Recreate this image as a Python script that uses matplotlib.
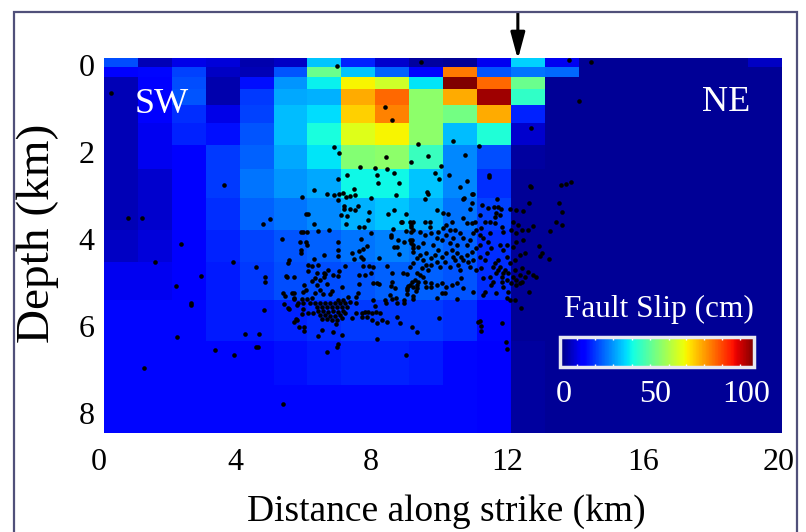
import numpy as np
from matplotlib import pyplot as plt
from matplotlib.cm import ScalarMappable
from matplotlib.colors import Normalize
from matplotlib.patches import Rectangle

W, H = 806, 532

# fault patches, edges in km
strike_edges = [0.15 + 0.997 * i for i in range(21)]
depth_edges = [-0.16, 0.05, 0.28, 0.55, 0.92, 1.33, 1.84, 2.39, 3.06, 3.79, 4.53, 5.40, 6.34, 7.36, 8.46]

# slip in cm, one row per depth
slip = [
    [20, 5, 9, 8, 4, 6, 32, 16, 7, 3, 2, 10, 33, 10, 2, 2, 2, 2, 2, 6],
    [11, 13, 19, 6, 5, 21, 48, 32, 22, 11, 78, 21, 24, 23, 2, 2, 2, 2, 2, 2],
    [5, 12, 20, 4, 14, 27, 36, 65, 60, 35, 100, 80, 48, 2, 2, 2, 2, 2, 2, 2],
    [5, 11, 21, 4, 18, 29, 30, 73, 80, 52, 73, 97, 41, 2, 2, 2, 2, 2, 2, 2],
    [5, 11, 17, 9, 19, 31, 34, 69, 77, 52, 49, 73, 16, 2, 2, 2, 2, 2, 2, 2],
    [5, 10, 16, 14, 21, 31, 38, 62, 65, 52, 31, 39, 7, 2, 2, 2, 2, 2, 2, 2],
    [5, 10, 11, 18, 22, 29, 35, 51, 52, 42, 26, 20, 3, 2, 2, 2, 2, 2, 2, 2],
    [5, 7, 11, 18, 24, 27, 29, 37, 37, 32, 26, 17, 2, 2, 2, 2, 2, 2, 2, 2],
    [5, 7, 11, 17, 22, 24, 26, 30, 32, 29, 24, 19, 2, 2, 2, 2, 2, 2, 2, 2],
    [6, 8, 12, 16, 19, 21, 22, 24, 25, 24, 22, 17, 2, 2, 2, 2, 2, 2, 2, 2],
    [10, 10, 12, 15, 18, 20, 20, 21, 22, 22, 21, 17, 2, 2, 2, 2, 2, 2, 2, 2],
    [13, 13, 13, 15, 15, 16, 17, 18, 18, 18, 17, 13, 2, 2, 2, 2, 2, 2, 2, 2],
    [13, 13, 13, 13, 13, 14, 15, 16, 16, 15, 13, 11, 3, 2, 2, 2, 2, 2, 2, 2],
    [13, 13, 13, 13, 13, 13, 13, 13, 13, 13, 13, 12, 3, 2, 2, 2, 2, 2, 2, 2],
]

# aftershocks (distance km, depth km)
events = [
    (.85,3.52),(1.27,3.52),(3.68,2.76),(2.41,4.11),(1.65,4.53),(3.0,4.85),(2.26,5.08),(2.7,5.47),(2.71,5.52),
    (2.29,6.25),(1.32,6.97),(3.41,6.55),(3.97,6.67),(4.29,6.18),(4.71,6.18),(4.62,6.48),(4.68,6.48),(5.41,7.79),
    (4.85,5.63),(3.94,4.53),(4.62,4.64),(4.88,4.87),(4.88,4.99),(4.82,3.66),(5.03,3.54),(5.38,4.0),(5.53,4.87),
    (5.74,4.87),(5.56,4.55),(5.59,4.48),(5.41,5.24),(5.47,5.31),(5.68,5.24),(5.74,5.24),(5.44,5.49),(5.59,5.61),
    (5.74,5.38),(5.82,5.52),(5.74,5.91),(5.79,5.84),(5.88,6.02),(.34,.65),(7.0,.02),(9.47,-.07),(13.82,-.11),
    (14.47,-.07),(14.12,.83),(8.41,.97),(8.62,1.27),(12.71,1.45),(10.41,1.75),(11.18,1.87),(9.38,1.82),(6.91,1.88),
    (7.06,2.02),(8.44,2.11),(9.68,2.09),(10.76,2.07),(9.18,2.23),(10.06,2.32),(7.68,2.34),(8.12,2.37),(8.47,2.39),
    (8.68,2.48),(8.18,2.53),(7.29,2.53),(9.88,2.48),(10.29,2.53),(10.0,2.62),(11.47,2.53),(11.47,2.58),(7.03,2.62),
    (10.82,2.67),(8.21,2.71),(8.82,2.71),(10.62,2.8),(12.71,2.8),(13.59,2.76),(13.74,2.74),(13.88,2.69),(7.5,2.85),
    (6.32,2.87),(9.65,2.92),(9.68,2.97),(10.97,2.97),(6.71,2.97),(6.91,2.99),(7.06,2.97),(7.18,2.94),(7.26,3.03),
    (7.38,3.01),(7.53,2.99),(8.0,3.06),(8.74,2.99),(9.59,3.08),(10.74,3.06),(11.71,3.08),(5.97,3.03),
    (7.03,3.10),(7.21,3.24),(7.21,3.31),(7.38,3.31),(7.53,3.33),(7.62,3.24),(7.94,3.38),(7.12,3.45),(7.29,3.47),
    (7.91,3.56),(7.26,3.66),(7.65,3.72),(7.79,3.72),(8.0,3.86),(8.5,3.43),(8.68,3.33),(9.03,3.43),(8.88,3.61),
    (9.15,3.61),(8.65,3.77),(9.03,3.82),(9.18,3.72),(9.24,3.79),(8.59,3.91),(8.59,3.95),(8.79,4.02),(8.97,4.07),
    (9.21,4.02),(9.18,4.09),(8.68,4.18),(8.76,4.18),(8.82,4.34),(9.24,4.21),(9.24,4.3),(6.09,3.43),(6.15,3.43),
    (6.32,3.66),(5.94,3.84),(6.0,3.84),(6.12,3.84),(6.44,3.82),(6.76,3.79),(5.91,4.07),(6.09,4.07),(6.12,4.14),
    (7.03,4.07),(7.71,4.0),(5.94,4.25),(5.94,4.32),(7.03,4.25),(7.03,4.39),(7.88,4.16),(7.76,4.23),(7.65,4.28),
    (7.44,4.32),(6.62,4.37),(6.32,4.46),(7.5,4.46),(7.71,4.41),(7.76,4.46),(8.24,4.44),(6.15,4.6),(6.26,4.62),
    (6.44,4.6),(7.24,4.62),(7.76,4.62),(7.94,4.62),(8.06,4.64),(8.47,4.62),(6.74,4.71),(7.06,4.74),(6.15,4.74),
    (6.62,4.78),(6.41,4.78),(6.88,4.83),(7.03,4.85),(7.65,4.83),(7.82,4.83),(8.0,4.78),(8.62,4.78),(8.94,4.78),
    (9.06,4.8),(5.5,4.85),(6.35,4.9),(6.62,4.87),(9.15,4.64),
    (6.26,4.97),(6.5,4.94),(6.65,4.8),(6.41,5.06),(6.71,5.03),(6.5,5.17),(6.59,5.26),(6.35,5.24),(6.03,5.06),
    (6.0,5.22),(6.09,5.17),(6.85,5.2),(6.79,5.26),(7.15,5.1),(7.62,5.24),(7.32,5.33),(7.56,5.33),(7.03,5.4),
    (7.18,5.4),(7.38,5.45),(7.56,5.47),(5.74,5.36),(5.97,5.38),(6.12,5.38),(6.26,5.36),(5.85,5.47),(6.0,5.47),
    (6.21,5.47),(6.35,5.47),(6.5,5.47),(6.65,5.47),(6.79,5.47),(6.94,5.47),(7.09,5.47),(7.24,5.47),(6.41,5.56),
    (6.56,5.56),(6.71,5.56),(6.85,5.56),(7.0,5.56),(7.15,5.56),(7.29,5.56),(6.44,5.66),(6.59,5.66),(6.74,5.68),
    (6.88,5.66),(7.03,5.68),(7.18,5.66),(6.5,5.75),(6.65,5.75),(6.79,5.77),(6.94,5.77),(7.09,5.75),(7.24,5.7),
    (6.56,5.84),(6.71,5.84),(6.85,5.86),(7.0,5.86),(7.15,5.82),(6.97,5.95),(6.15,5.7),(6.29,5.7),(6.0,5.61),
    (5.97,5.72),(5.56,5.59),(5.82,5.86),(6.03,6.02),(6.03,6.11),(6.56,6.09),(6.88,6.14),(6.44,6.23),(7.15,6.21),
    (7.03,6.41),(7.0,6.48),(6.71,6.6),(8.18,6.3),(9.03,6.67),(7.44,5.82),(7.56,5.7),(7.74,5.7),(7.82,5.68),
    (7.91,5.68),(7.74,5.79),(7.88,5.79),(8.03,5.7),(8.03,5.86),(8.15,5.68),(8.26,5.7),(8.32,5.86),(8.18,5.93),
    (8.47,5.91),(8.76,5.79),(8.85,5.93),(9.21,6.02),(9.35,6.14),(8.06,5.4),(8.12,5.54),(8.41,5.4),(8.44,5.47),
    (8.56,5.29),(8.62,5.38),(8.74,5.36),(8.76,5.47),(8.97,5.4),(8.97,5.47),(9.24,5.38),(9.06,5.26),(9.06,5.13),
    (9.32,5.2),(9.35,5.06),(9.21,4.99),(9.09,5.08),(8.62,4.99),(8.71,5.13),(8.59,5.08),(8.18,5.01),(8.24,5.03),
    (8.06,5.01),(7.65,5.03),
    (9.05,5.17),(9.14,5.06),(9.24,5.1),(9.29,4.94),(9.39,4.98),(9.34,4.79),(9.44,4.83),(9.54,4.87),(9.24,4.56),
    (9.34,4.44),(9.44,4.37),(9.54,4.48),(9.63,4.6),(9.49,4.67),(9.68,4.71),(9.78,4.6),(9.78,4.44),(9.63,4.33),
    (9.88,4.37),(9.98,4.25),(9.83,4.14),(9.54,4.1),(9.39,4.18),(9.24,4.14),(9.14,4.02),(9.19,3.83),(9.19,3.68),
    (9.24,3.6),(8.9,3.6),(9.93,3.98),(10.08,4.02),(9.78,3.87),(9.98,3.83),(10.12,3.75),(10.22,3.68),(10.37,3.6),
    (10.32,3.79),(10.47,3.79),(10.61,3.87),(10.22,3.91),(10.42,3.98),(10.32,4.1),(10.52,4.14),(10.71,3.98),
    (10.81,4.14),(10.91,4.02),(11.0,3.87),(11.1,3.79),(11.2,3.91),(11.3,3.98),(10.96,3.64),(10.81,3.64),(10.71,3.52),
    (11.06,3.6),(11.25,3.75),(11.5,3.87),(11.64,3.64),(11.84,3.72),(11.2,4.14),(11.1,4.21),(10.96,4.29),(10.81,4.37),
    (10.66,4.41),(10.52,4.33),(10.37,4.25),(10.22,4.33),(10.08,4.41),(9.93,4.52),(10.03,4.64),(10.17,4.52),(10.71,4.48),
    (10.86,4.52),(11.0,4.48),(10.91,4.64),(11.1,4.71),(11.25,4.67),(11.35,4.48),(11.2,4.41),(11.4,4.33),(11.54,4.21),
    (11.45,4.06),(11.79,4.14),(11.89,4.25),(11.99,4.14),(11.74,4.48),(11.64,4.56),(11.79,4.64),(11.94,4.71),(11.69,4.79),
    (11.84,4.87),(12.04,4.79),(12.18,4.87),(12.28,4.94),(12.38,5.02),(12.23,4.71),(12.38,4.83),(12.52,4.87),(12.43,4.67),
    (12.62,4.75),(12.77,4.83),(12.85,4.88),(12.08,4.56),(12.23,4.48),(11.99,4.41),(12.38,4.37),(12.52,4.33),(12.18,4.18),
    (12.28,4.06),(12.48,4.02),(12.28,3.87),(12.43,3.79),(12.62,3.79),(12.77,3.7),(12.18,3.6),(12.33,3.68),(12.13,3.79),
    (11.89,3.83),(12.28,3.33),(12.48,3.35),(12.65,3.18),(12.08,3.3),(11.74,3.26),(11.61,3.27),(11.45,3.28),(11.28,3.22),
    (11.81,3.3),(11.69,3.41),(11.64,3.49),(11.79,3.45),(11.2,3.45),(11.5,3.6),(11.35,3.6),(10.96,3.18),(11.0,2.97),
    (10.71,3.07),(10.91,3.32),(9.93,3.33),(10.12,3.41),(10.27,3.43),(9.59,3.6),(9.73,3.6),(9.73,3.72),(9.44,3.83),
    (9.59,3.91),(12.69,2.78),(13.53,3.18),(13.62,3.37),(13.43,3.62),(13.62,3.68),(13.28,3.82),(12.95,4.16),(13.02,4.33),
    (12.97,4.39),(13.24,4.47),(12.65,5.23),(12.4,5.59),(11.2,5.89),(11.15,5.9),(11.25,6.01),(11.25,6.11),(11.84,5.94),
    (11.97,6.36),(12.0,6.53),(10.0,5.82),(10.08,5.02),(10.22,5.1),(10.37,5.06),(10.52,5.02),(10.66,4.9),(10.71,5.13),
    (11.0,5.21),(11.3,5.29),(11.35,5.21),(11.52,5.06),(11.69,5.25),(11.89,5.1),(12.04,5.21),(11.99,5.36),(12.08,5.4),
    (12.25,5.4),(10.61,4.71),(9.93,5.36),(10.08,5.25),(10.17,5.25),(10.52,5.39),(9.78,5.02),(9.59,4.98),(9.93,5.06),
    (9.24,5.31),(9.34,5.13),(9.78,5.11),(9.63,5.1),(10.32,4.64),(10.47,4.48),(10.57,4.6),(10.42,4.41),(11.59,4.64),
    (11.89,4.79),(11.74,4.71),(11.99,4.94),(12.13,5.02),(12.28,5.06),(12.43,4.98),(11.84,4.98),(11.5,4.87),(11.59,4.98),
    (11.3,4.9),
]

x_ticks = [0, 4, 8, 12, 16, 20]
y_ticks = [0, 2, 4, 6, 8]
bar_ticks = [8.6, 18, 27.5, 37, 46.5, 56, 65, 74, 83.5, 93]
bar_labels = [(0, 0.02), (50, 0.49), (100, 0.96)]
trace_x = 12.32

plt.rcParams['font.family'] = ['Liberation Serif', 'DejaVu Serif']

fig = plt.figure(figsize=(W / 100, H / 100), dpi=100)
ax = fig.add_axes([99 / W, 1 - 433 / H, (782 - 99) / W, (433 - 58) / H])
ax.pcolormesh(strike_edges, depth_edges, slip, cmap='jet', vmin=0, vmax=100, shading='flat')
pts = np.array(events)
ax.plot(pts[:, 0], pts[:, 1], 'o', color='k', ms=3.3, mew=0, clip_on=False)
ax.set_xlim(0, 20.09)
ax.set_ylim(8.46, -0.16)
ax.set_xticks(x_ticks)
ax.set_yticks(y_ticks)
ax.tick_params(length=0, labelsize=23)
ax.tick_params(axis='x', pad=11)
ax.tick_params(axis='y', pad=3)
for s in ax.spines.values():
    s.set_visible(False)

ax.text(1.85, 0.9, 'SW', color='w', fontsize=26, ha='center', va='center')
ax.text(18.45, 0.86, 'NE', color='w', fontsize=26, ha='center', va='center')
ax.annotate('', xy=(trace_x, -0.13), xytext=(trace_x, -1.2), annotation_clip=False,
            arrowprops=dict(arrowstyle='-|>,head_length=1.6,head_width=0.43', mutation_scale=10,
                            color='k', lw=2.2, shrinkA=0, shrinkB=0))

# colour bar inside the plot
cax = fig.add_axes([560 / W, 1 - 367 / H, 194 / W, 30 / H])
cb = fig.colorbar(ScalarMappable(Normalize(0, 100), 'jet'), cax=cax, orientation='horizontal')
cb.set_ticks(bar_ticks)
cb.minorticks_off()
cax.tick_params(axis='x', which='major', direction='in', color='w', length=2, width=1,
                top=True, bottom=True, labelbottom=False)
cb.outline.set_edgecolor('#e8e8f0')
cb.outline.set_linewidth(2.5)
for val, pos in bar_labels:
    cax.text(pos, -0.42, str(val), color='w', fontsize=23, ha='center', va='top', transform=cax.transAxes)
cax.text(0.51, 1.45, 'Fault Slip (cm)', color='w', fontsize=22.5, ha='center', va='bottom', transform=cax.transAxes)

fig.text(38 / W, 1 - 233 / H, 'Depth (km)', fontsize=34, rotation=90, ha='center', va='center')
fig.text(446 / W, 1 - 512 / H, 'Distance along strike (km)', fontsize=27, ha='center', va='center')

# page frame around the figure, runs off the bottom
fig.add_artist(Rectangle((14 / W, -0.05), (797 - 14) / W, 1 - 12 / H + 0.05, transform=fig.transFigure,
                         fill=False, edgecolor='#50507a', lw=1.6))

fig.savefig('out.png', dpi=100)
